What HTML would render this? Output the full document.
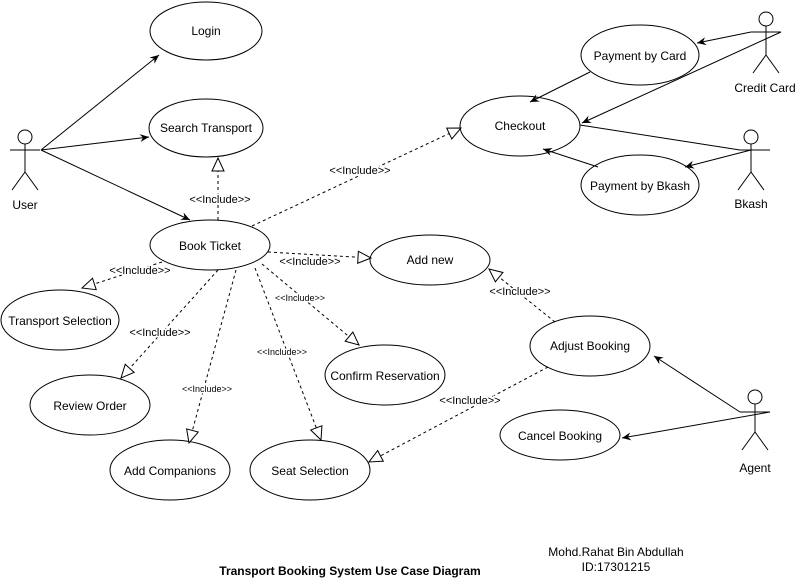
<!DOCTYPE html>
<html><head><style>body{margin:0;background:#fff}svg{display:block}</style></head><body>
<svg width="796" height="581" viewBox="0 0 796 581" xmlns="http://www.w3.org/2000/svg" font-family="Liberation Sans, sans-serif">
<defs>
<marker id="a" markerWidth="10" markerHeight="10" refX="9" refY="5" orient="auto" markerUnits="userSpaceOnUse"><path d="M0,1 L9,5 L0,9 L3,5 Z" fill="#000"/></marker>
<marker id="t" markerWidth="16" markerHeight="16" refX="14" refY="7" orient="auto" markerUnits="userSpaceOnUse"><path d="M1,1 L14,7 L1,13 Z" fill="#fff" stroke="#000"/></marker>
</defs>
<g fill="#fff" stroke="#000" stroke-width="1">
<ellipse cx="206" cy="31" rx="56" ry="29"/>
<ellipse cx="206" cy="128" rx="57" ry="29"/>
<ellipse cx="210" cy="245" rx="60" ry="25"/>
<ellipse cx="60" cy="320" rx="59" ry="30"/>
<ellipse cx="90" cy="405" rx="60" ry="30"/>
<ellipse cx="170" cy="470" rx="60" ry="30"/>
<ellipse cx="310" cy="470" rx="60" ry="30"/>
<ellipse cx="385" cy="375" rx="60" ry="30"/>
<ellipse cx="430" cy="260" rx="60" ry="25"/>
<ellipse cx="520" cy="126" rx="60" ry="30"/>
<ellipse cx="640" cy="55" rx="59" ry="30"/>
<ellipse cx="640" cy="185" rx="59" ry="30"/>
<ellipse cx="590" cy="346" rx="60" ry="30"/>
<ellipse cx="560" cy="435" rx="60" ry="25"/>
</g>
<g fill="none" stroke="#000">
<circle cx="25" cy="137" r="7"/><path d="M25,144V172M10,150H40M25,172L12,190M25,172L38,190"/>
<circle cx="766" cy="19" r="7"/><path d="M766,26V55M751,32H781M766,55L753,73M766,55L779,73"/>
<circle cx="751" cy="137" r="7"/><path d="M751,144V172M740,150H770M751,172L738,190M751,172L764,190"/>
<circle cx="755" cy="397" r="7"/><path d="M755,404V432M740,412H770M755,432L742,450M755,432L768,450"/>
<path d="M41,150L159,55" marker-end="url(#a)"/>
<path d="M41,150L149,137" marker-end="url(#a)"/>
<path d="M41,150L190,220" marker-end="url(#a)"/>
<path d="M751,32L697,43" marker-end="url(#a)"/>
<path d="M781,32L582,123" marker-end="url(#a)"/>
<path d="M590,72L530,102" marker-end="url(#a)"/>
<path d="M598,167L543,149" marker-end="url(#a)"/>
<path d="M740,150L580,125"/>
<path d="M751,150L685,167" marker-end="url(#a)"/>
<path d="M740,412L654,356" marker-end="url(#a)"/>
<path d="M770,412L622,438" marker-end="url(#a)"/>
</g>
<g fill="none" stroke="#000" stroke-dasharray="3,3">
<path d="M218,220L218,158" marker-end="url(#t)"/>
<path d="M252,226L461,128" marker-end="url(#t)"/>
<path d="M268,252L371,258" marker-end="url(#t)"/>
<path d="M162,262L82,288" marker-end="url(#t)"/>
<path d="M218,270L121,378" marker-end="url(#t)"/>
<path d="M236,270L189,443" marker-end="url(#t)"/>
<path d="M255,268L321,440" marker-end="url(#t)"/>
<path d="M262,264L359,345" marker-end="url(#t)"/>
<path d="M555,322L489,269" marker-end="url(#t)"/>
<path d="M548,367L369,462" marker-end="url(#t)"/>
</g>
<g font-size="12" text-anchor="middle" fill="#000">
<text x="206" y="35">Login</text>
<text x="206" y="132">Search Transport</text>
<text x="210" y="250">Book Ticket</text>
<text x="60" y="325">Transport Selection</text>
<text x="90" y="410">Review Order</text>
<text x="170" y="475">Add Companions</text>
<text x="310" y="475">Seat Selection</text>
<text x="385" y="380">Confirm Reservation</text>
<text x="430" y="264">Add new</text>
<text x="520" y="130">Checkout</text>
<text x="640" y="60">Payment by Card</text>
<text x="640" y="190">Payment by Bkash</text>
<text x="590" y="350">Adjust Booking</text>
<text x="560" y="440">Cancel Booking</text>
<text x="25" y="209">User</text>
<text x="765" y="92">Credit Card</text>
<text x="751" y="208">Bkash</text>
<text x="755" y="472">Agent</text>
<text x="616" y="556">Mohd.Rahat Bin Abdullah</text>
<text x="616" y="571">ID:17301215</text>
<text x="350" y="575" font-weight="bold">Transport Booking System Use Case Diagram</text>
</g>
<g font-size="11" text-anchor="middle" fill="#000">
<text x="220" y="203" stroke="#fff" stroke-width="3" paint-order="stroke">&lt;&lt;Include&gt;&gt;</text>
<text x="360" y="174" stroke="#fff" stroke-width="3" paint-order="stroke">&lt;&lt;Include&gt;&gt;</text>
<text x="310" y="265" stroke="#fff" stroke-width="3" paint-order="stroke">&lt;&lt;Include&gt;&gt;</text>
<text x="140" y="274" stroke="#fff" stroke-width="3" paint-order="stroke">&lt;&lt;Include&gt;&gt;</text>
<text x="160" y="336" stroke="#fff" stroke-width="3" paint-order="stroke">&lt;&lt;Include&gt;&gt;</text>
<text x="520" y="295" stroke="#fff" stroke-width="3" paint-order="stroke">&lt;&lt;Include&gt;&gt;</text>
<text x="470" y="404" stroke="#fff" stroke-width="3" paint-order="stroke">&lt;&lt;Include&gt;&gt;</text>
</g>
<g font-size="9" text-anchor="middle" fill="#000">
<text x="300" y="301" stroke="#fff" stroke-width="3" paint-order="stroke">&lt;&lt;Include&gt;&gt;</text>
<text x="282" y="355" stroke="#fff" stroke-width="3" paint-order="stroke">&lt;&lt;Include&gt;&gt;</text>
<text x="207" y="392" stroke="#fff" stroke-width="3" paint-order="stroke">&lt;&lt;Include&gt;&gt;</text>
</g>
</svg>
</body></html>
